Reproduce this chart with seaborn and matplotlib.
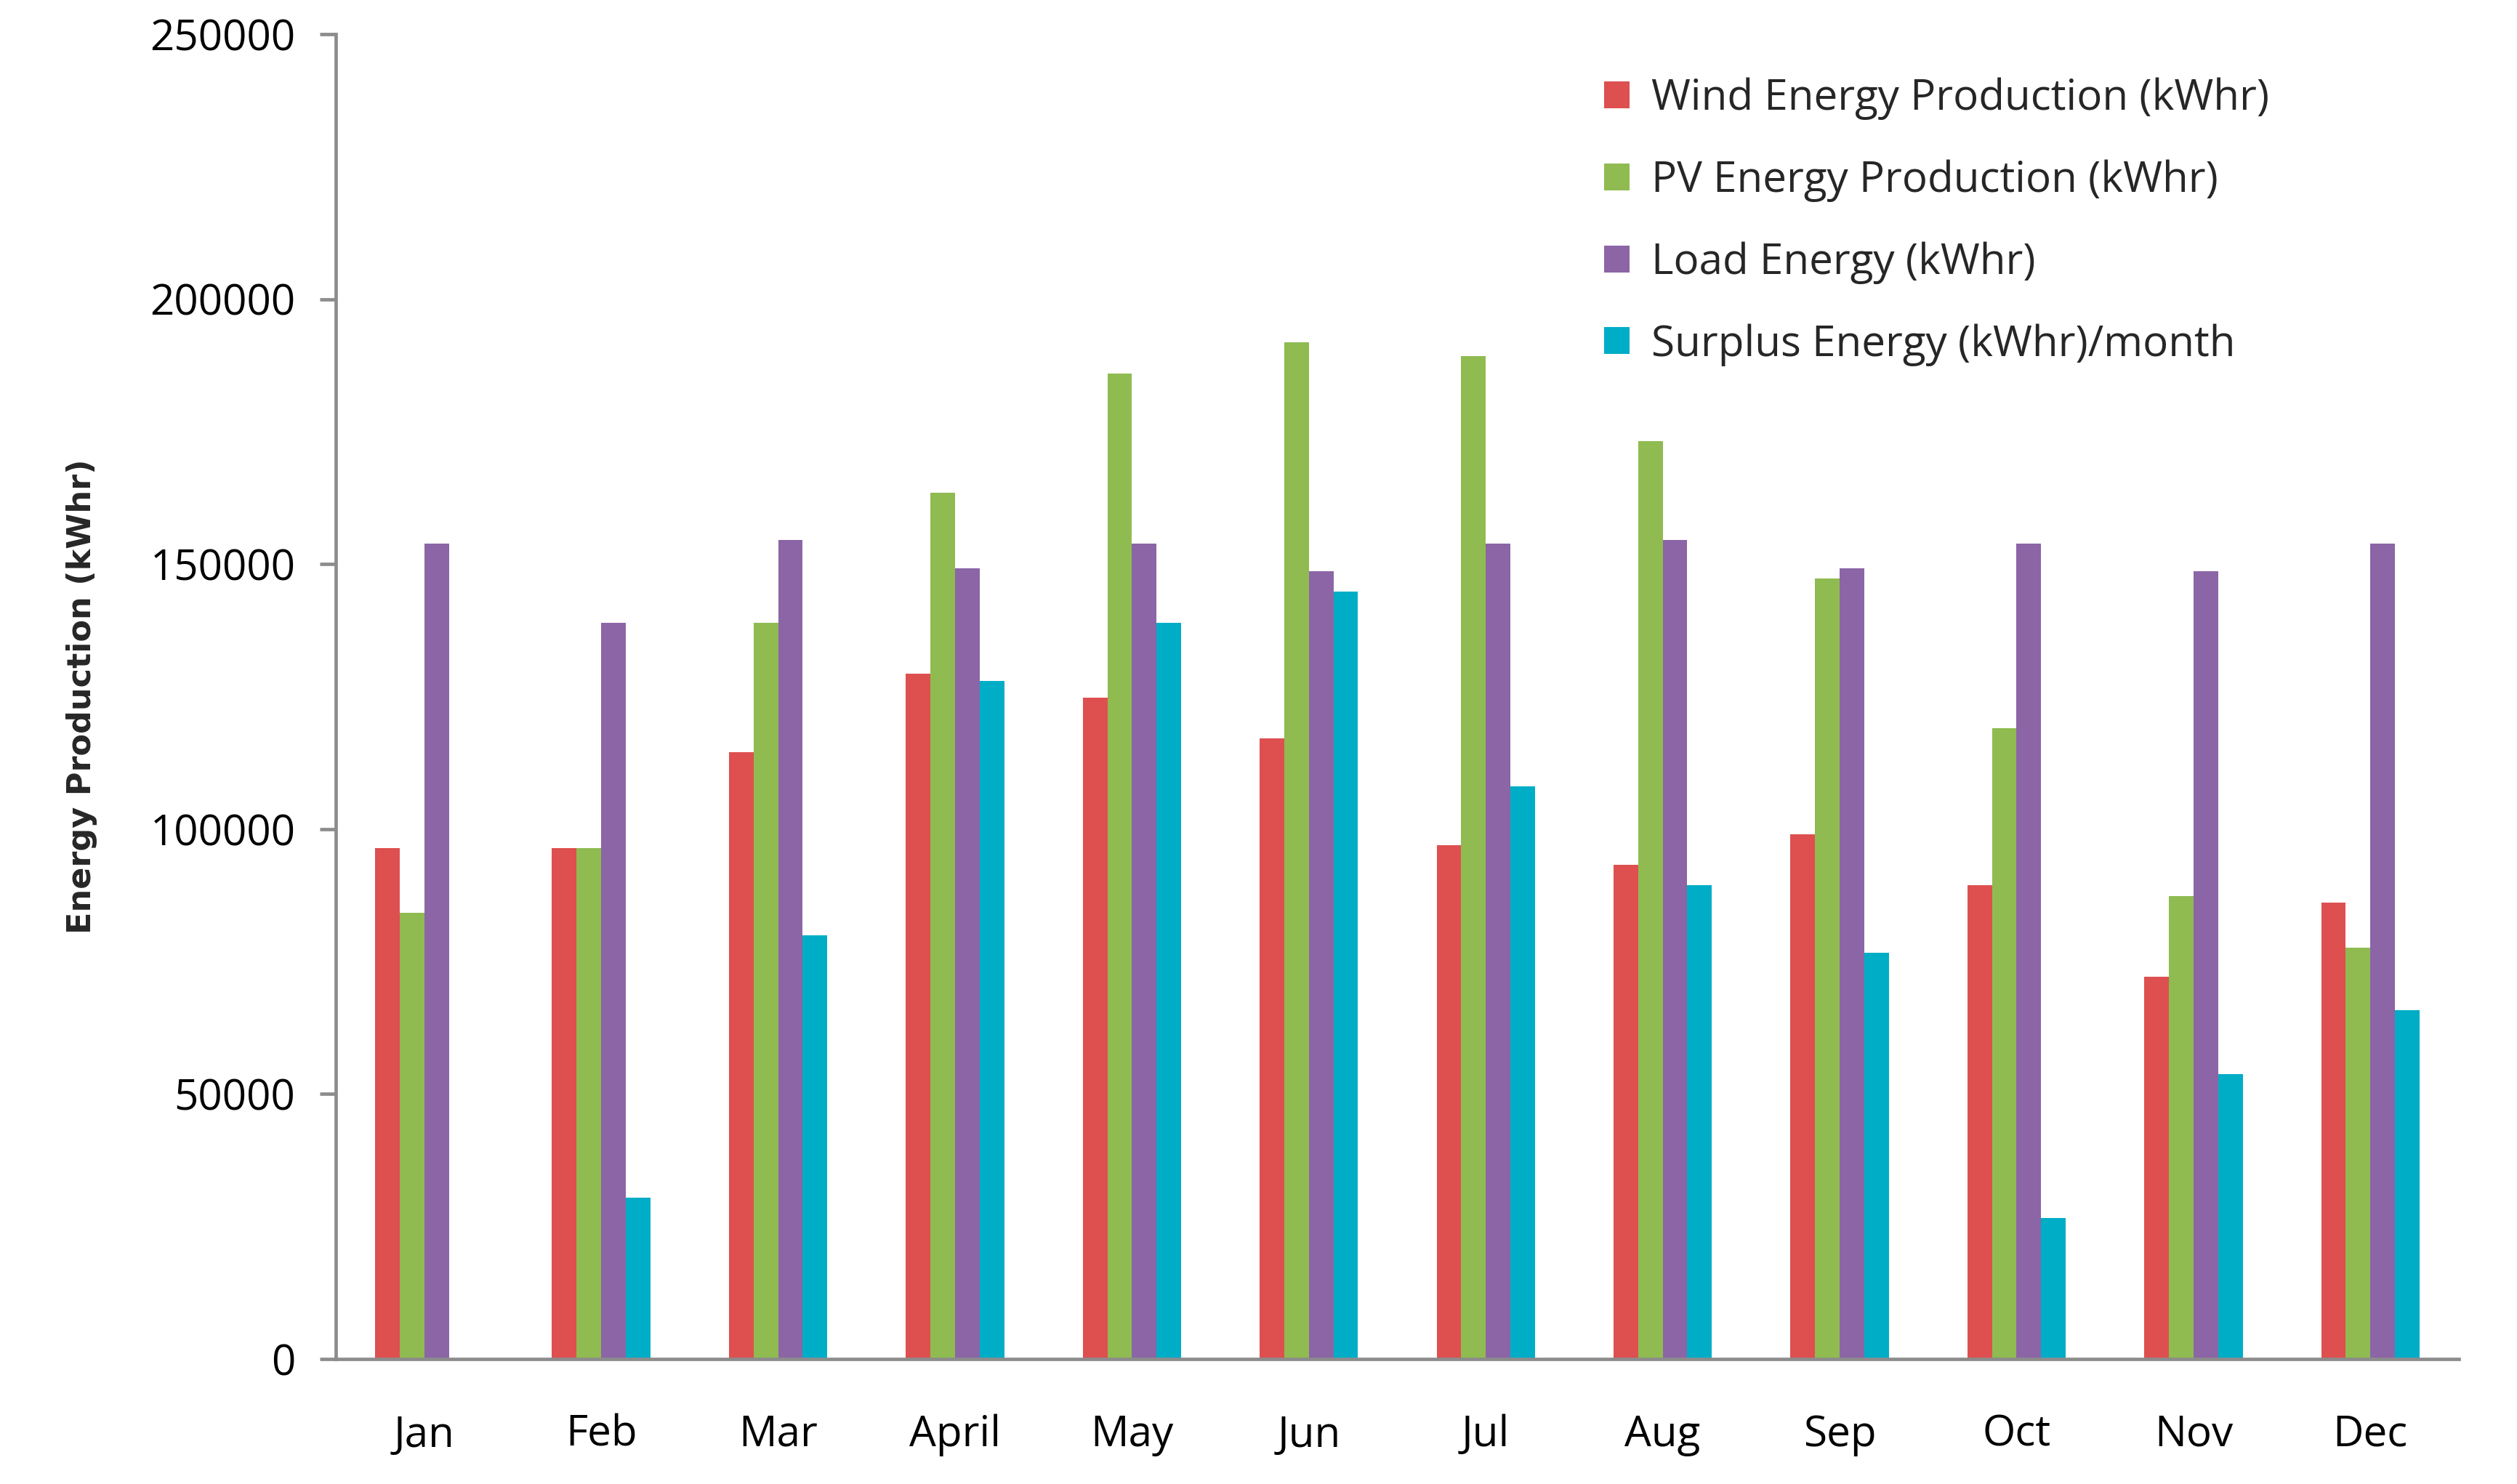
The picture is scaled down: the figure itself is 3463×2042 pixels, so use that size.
import pandas as pd
import matplotlib
matplotlib.use('Agg')
import matplotlib.pyplot as plt
import seaborn as sns

# data
months = ['Jan', 'Feb', 'Mar', 'April', 'May', 'Jun', 'Jul', 'Aug', 'Sep', 'Oct', 'Nov', 'Dec']
series = ['Wind Energy Production (kWhr)', 'PV Energy Production (kWhr)',
          'Load Energy (kWhr)', 'Surplus Energy (kWhr)/month']
wind = [96400, 96400, 114500, 129300, 124800, 117100, 97000, 93200, 99000, 89400, 72200, 86100]
pv = [84200, 96400, 138900, 163500, 186000, 191800, 189200, 173200, 147300, 119000, 87400, 77600]
load = [153800, 138900, 154500, 149200, 153800, 148600, 153800, 154500, 149200, 153800, 148600, 153800]
surplus = [0, 30500, 80000, 128000, 138900, 144800, 108000, 89400, 76700, 26600, 53700, 65800]
colors = ['#DE4F4F', '#8FBB51', '#8B65A6', '#00ADC6']

# long form table for seaborn
rows = []
for name, vals in zip(series, [wind, pv, load, surplus]):
    for m, v in zip(months, vals):
        rows.append({'Month': m, 'Series': name, 'Energy': v})
data = pd.DataFrame(rows)

sns.set_style('white')
plt.rcParams['font.family'] = ['Open Sans', 'DejaVu Sans']

fig = plt.figure(figsize=(17.315, 10.21), dpi=200)
ax = fig.add_axes([0.1334, 0.0842, 0.8435, 0.8928])

sns.barplot(data=data, x='Month', y='Energy', hue='Series', order=months,
            hue_order=series, palette=colors, width=0.556, linewidth=0,
            saturation=1, ax=ax)

ax.set_xlim(-0.5, 11.5)
ax.set_ylim(0, 250000)
ax.set_yticks(range(0, 250001, 50000))
ax.set_yticklabels([str(v) for v in range(0, 250001, 50000)])

for s in ['top', 'right']:
    ax.spines[s].set_visible(False)
for s in ['left', 'bottom']:
    ax.spines[s].set_color('#8C8C8C')
    ax.spines[s].set_linewidth(1.7)

ax.tick_params(axis='y', length=8, width=1.7, color='#8C8C8C', pad=12,
               labelsize=21, labelcolor='black', left=True)
ax.tick_params(axis='x', length=0, pad=27, labelsize=21, labelcolor='black')

ax.set_xlabel('')
ax.set_ylabel('Energy Production (kWhr)', fontsize=16, fontweight='bold',
              family='DejaVu Sans', labelpad=26)

handles, labels = ax.get_legend_handles_labels()
ax.legend(handles, labels, loc='upper left', bbox_to_anchor=(0.629, 0.962),
          bbox_transform=fig.transFigure, frameon=False, fontsize=21,
          handlelength=0.6, handleheight=0.6, handletextpad=0.5,
          labelspacing=0.93, borderpad=0)

fig.savefig('out.png', dpi=200)
